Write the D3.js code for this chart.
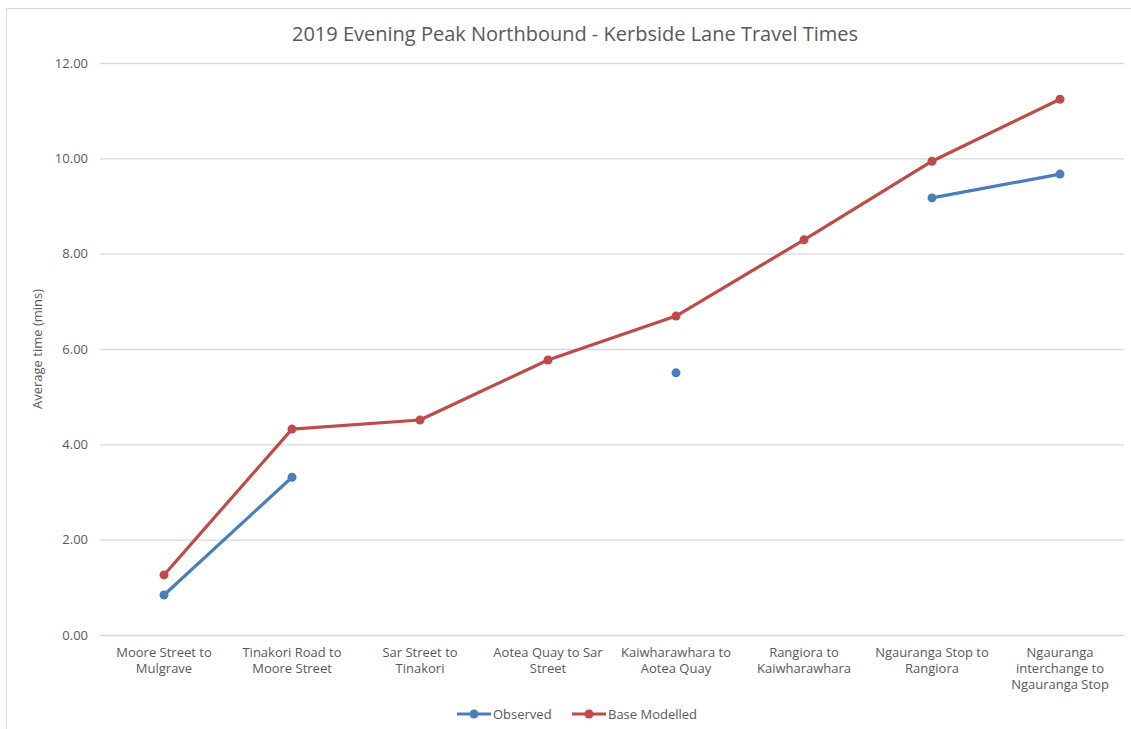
<!DOCTYPE html>
<html>
<head>
<meta charset="utf-8">
<script src="https://cdn.jsdelivr.net/npm/d3@7"></script>
<style>
  body { margin: 0; background: #fff; }
  text { font-family: "Open Sans", "Noto Sans", sans-serif; fill: #595959; }
</style>
</head>
<body>
<svg id="chart"></svg>
<script>
// categories (line breaks as in the original axis)
var categories = [
    "Moore Street to\nMulgrave",
    "Tinakori Road to\nMoore Street",
    "Sar Street to\nTinakori",
    "Aotea Quay to Sar\nStreet",
    "Kaiwharawhara to\nAotea Quay",
    "Rangiora to\nKaiwharawhara",
    "Ngauranga Stop to\nRangiora",
    "Ngauranga\ninterchange to\nNgauranga Stop"
];
var observed = [0.84, 3.31, null, null, 5.50, null, 9.17, 9.67];
var baseModelled = [1.26, 4.32, 4.51, 5.77, 6.69, 8.29, 9.94, 11.24];
var yTicks = [0, 2, 4, 6, 8, 10, 12];

var width = 1131, height = 729;
var svg = d3.select("#chart").attr("width", width).attr("height", height);

var plotLeft = 100, plotRight = 1124, plotTop = 63, plotBottom = 635;

var x = d3.scaleBand().domain(d3.range(categories.length)).range([plotLeft, plotRight]);
var y = d3.scaleLinear().domain([0, 12]).range([plotBottom, plotTop]);

//chart border
svg.append("rect")
    .attr("x", 6.5).attr("y", 8.5)
    .attr("width", 1140).attr("height", 740)
    .attr("fill", "none").attr("stroke", "#d9d9d9");

// title
svg.append("text")
    .attr("x", 575).attr("y", 41)
    .attr("text-anchor", "middle")
    .style("font-size", "20px")
    .text("2019 Evening Peak Northbound - Kerbside Lane Travel Times");

// gridlines + y labels
var yAxis = d3.axisLeft(y).tickValues(yTicks).tickSize(-(plotRight - plotLeft)).tickPadding(12)
    .tickFormat(d3.format(".2f"));
var gy = svg.append("g").attr("transform", "translate(" + plotLeft + ",0)").call(yAxis);
gy.select(".domain").remove();
gy.selectAll(".tick line").attr("stroke", "#d9d9d9").attr("stroke-width", 1.3);
gy.selectAll(".tick text").style("font-size", "13px").attr("fill", "#595959");

// x labels
var xAxis = d3.axisBottom(x).tickSize(0).tickPadding(0).tickFormat("");
var gx = svg.append("g").attr("transform", "translate(0," + plotBottom + ")").call(xAxis);
gx.select(".domain").remove();
gx.selectAll(".tick").each(function (d) {
    var t = d3.select(this).append("text")
        .attr("text-anchor", "middle")
        .attr("fill", "#595959")
        .style("font-size", "13px");
    categories[d].split("\n").forEach(function (line, i) {
        t.append("tspan").attr("x", 0).attr("y", 22 + i * 16).text(line);
    });
});

// y axis title
svg.append("text")
    .attr("transform", "translate(42," + ((plotTop + plotBottom) / 2) + ") rotate(-90)")
    .attr("text-anchor", "middle")
    .style("font-size", "13px")
    .text("Average time (mins)");

var cx = function (i) { return x(i) + x.bandwidth() / 2; };
var line = d3.line()
    .defined(function (d) { return d != null; })
    .x(function (d, i) { return cx(i); })
    .y(function (d) { return y(d); });

var series = [
    { name: "Observed", values: observed, color: "#4a7ebb" },
    { name: "Base Modelled", values: baseModelled, color: "#be4b48" }
];

series.forEach(function (s) {
    svg.append("path")
        .datum(s.values)
        .attr("fill", "none")
        .attr("stroke", s.color)
        .attr("stroke-width", 3.2)
        .attr("stroke-linejoin", "round")
        .attr("d", line);
    svg.append("g").selectAll("circle")
        .data(s.values.map(function (v, i) { return { v: v, i: i }; }).filter(function (d) { return d.v != null; }))
        .enter().append("circle")
        .attr("cx", function (d) { return cx(d.i); })
        .attr("cy", function (d) { return y(d.v); })
        .attr("r", 4.5)
        .attr("fill", s.color);
});

// legend
var legendX = [457, 572];
var leg = svg.append("g");
series.forEach(function (s, i) {
    var g = leg.append("g").attr("transform", "translate(" + legendX[i] + ",714)");
    g.append("line").attr("x1", 0).attr("x2", 34).attr("y1", 0).attr("y2", 0)
        .attr("stroke", s.color).attr("stroke-width", 3.2);
    g.append("circle").attr("cx", 17).attr("cy", 0).attr("r", 4.5).attr("fill", s.color);
    g.append("text").attr("x", 36).attr("y", 4.5).style("font-size", "13px").text(s.name);
});
</script>
</body>
</html>
